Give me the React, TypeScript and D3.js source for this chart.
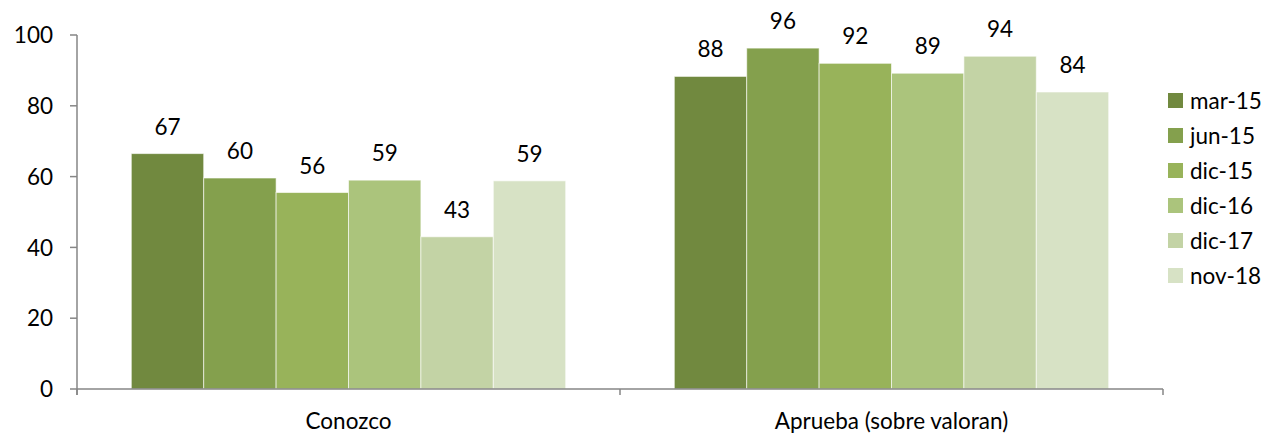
import React from "react";
import * as d3 from "d3";

const categories = ["Conozco", "Aprueba (sobre valoran)"];
const seriesNames = ["mar-15", "jun-15", "dic-15", "dic-16", "dic-17", "nov-18"];
const conozcoValues = [66.5, 59.6, 55.5, 59.0, 43.0, 58.8];
const apruebaValues = [88.3, 96.3, 92.0, 89.2, 94.0, 83.9];
const seriesColors = ["#71893F", "#84A04D", "#98B35A", "#ABC47C", "#C3D3A5", "#D7E2C5"];
const yTicks = [0, 20, 40, 60, 80, 100];

const W = 1270;
const H = 434;
const FONT = "Lato, 'Open Sans', sans-serif";

export default function App() {
  const left = 77;
  const right = 1163;
  const top = 35;
  const bottom = 389;
  const y = d3.scaleLinear().domain([0, 100]).range([bottom, top]);
  const x0 = d3.scaleBand().domain(categories).range([left, right]).paddingInner(0).paddingOuter(0);
  const x1 = d3.scaleBand().domain(seriesNames).range([0, x0.bandwidth()]).paddingOuter(0.75).paddingInner(0);
  const data = [conozcoValues, apruebaValues];
  const axisColor = "#868686";
  const fs = 22.5;

  return (
    <svg width={W} height={H} style={{ position: "absolute", left: 0, top: 0 }} fontFamily={FONT}>
      <rect x={0} y={0} width={W} height={H} fill="#fff" />
      {categories.map((c, ci) => (
        <g key={c} transform={`translate(${x0(c)},0)`}>
          {seriesNames.map((s, si) => {
            const v = data[ci][si];
            const bx = x1(s)!;
            return (
              <g key={s}>
                <rect x={bx} y={y(v)} width={x1.bandwidth()} height={y(0) - y(v)} fill={seriesColors[si]} stroke="#ffffff" strokeOpacity={0.6} strokeWidth={1} />
                <text x={bx + x1.bandwidth() / 2} y={y(v) - 19} textAnchor="middle" fontSize={fs} fill="#000">
                  {Math.round(v)}
                </text>
              </g>
            );
          })}
        </g>
      ))}
      {/* y axis */}
      <line x1={left} x2={left} y1={top} y2={bottom + 6} stroke={axisColor} strokeWidth={1.5} />
      {yTicks.map((t) => (
        <g key={t}>
          <line x1={left - 7} x2={left} y1={y(t)} y2={y(t)} stroke={axisColor} strokeWidth={1.5} />
          <text x={left - 24} y={y(t)} dy="0.36em" textAnchor="end" fontSize={fs} fill="#000">
            {t}
          </text>
        </g>
      ))}
      {/* x axis */}
      <line x1={left} x2={right} y1={bottom} y2={bottom} stroke={axisColor} strokeWidth={1.5} />
      {[left, x0(categories[1])!, right].map((tx, i) => (
        <line key={i} x1={tx} x2={tx} y1={bottom} y2={bottom + 6} stroke={axisColor} strokeWidth={1.5} />
      ))}
      {categories.map((c) => (
        <text key={c} x={x0(c)! + x0.bandwidth() / 2} y={429} textAnchor="middle" fontSize={fs} fill="#000">
          {c}
        </text>
      ))}
      {/* legend */}
      {seriesNames.map((s, i) => (
        <g key={s} transform={`translate(1168,${101 + i * 35})`}>
          <rect x={0} y={-8} width={15} height={15} fill={seriesColors[i]} />
          <text x={22} y={0} dy="0.36em" fontSize={fs} fill="#000">
            {s}
          </text>
        </g>
      ))}
    </svg>
  );
}
